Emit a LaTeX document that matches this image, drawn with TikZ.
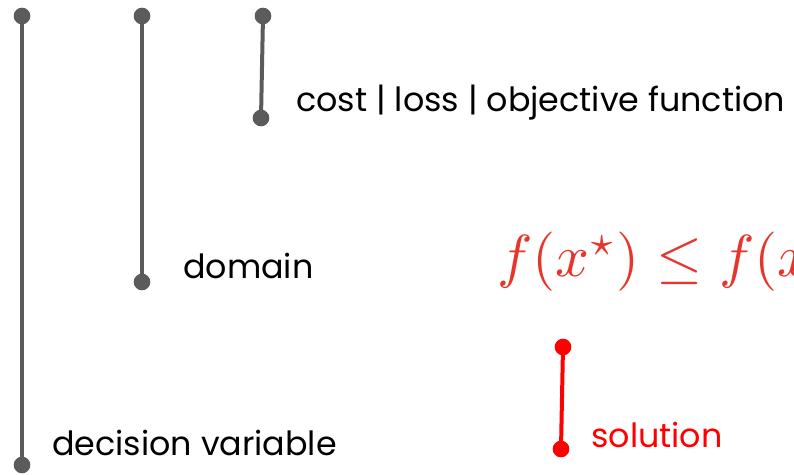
\documentclass[tikz,border=0pt]{standalone}
\usepackage{fontspec}
\setmainfont{Poppins}
\usepackage{amsmath}
\definecolor{lgray}{HTML}{5B5B5B}
\definecolor{mred}{HTML}{E8352B}
\definecolor{sred}{HTML}{FF0000}
\tikzset{
  dot/.style={circle,fill=#1,inner sep=0pt,minimum size=12.5pt},
  bar/.style={line width=3pt,draw=#1},
  lbl/.style={anchor=west,inner sep=0pt,font=\fontsize{25}{28}\selectfont,text=#1}
}
\begin{document}
\begin{tikzpicture}[x=0.75pt,y=-0.75pt]
\clip (0,0) rectangle (794,475);
\fill[white] (0,0) rectangle (794,475);
% decision variable
\node[dot=lgray] (a1) at (22,16) {};
\node[dot=lgray] (a2) at (22,465) {};
\draw[bar=lgray] (a1.center) -- (a2.center);
% domain
\node[dot=lgray] (b1) at (142,16) {};
\node[dot=lgray] (b2) at (142,282) {};
\draw[bar=lgray] (b1.center) -- (b2.center);
% cost
\node[dot=lgray] (c1) at (263,16) {};
\node[dot=lgray] (c2) at (261,118) {};
\draw[bar=lgray] (c1.center) -- (c2.center);
% solution
\node[dot=sred] (d1) at (563,347) {};
\node[dot=sred] (d2) at (561,449) {};
\draw[bar=sred] (d1.center) -- (d2.center);
% labels
\node[lbl=black] (tc) at (296,103) {cost | loss | objective function};
\node[lbl=black] (td) at (183,266) {domain};
\node[lbl=black] (ta) at (52,443) {decision variable};
\node[lbl=sred] (ts) at (591,435) {solution};
\node[anchor=west,inner sep=0pt,text=mred] (eq) at (497,262) {\scalebox{4.45}{$f(x^\star)\le f(x)$}};
\end{tikzpicture}
\end{document}
